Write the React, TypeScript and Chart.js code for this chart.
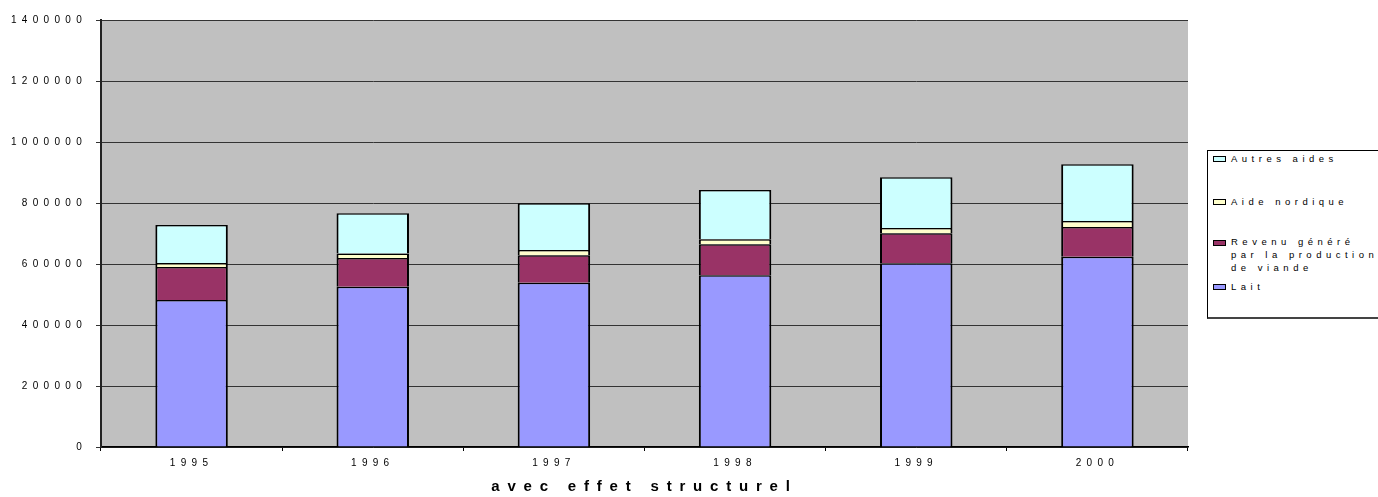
import React, { useEffect, useRef } from 'react';
import { Chart, registerables } from 'chart.js';

Chart.register(...registerables);

const categories = ['1995', '1996', '1997', '1998', '1999', '2000'];
const lait = [482000, 525600, 538800, 563000, 602300, 624000];
const viande = [108000, 94000, 89700, 101600, 98400, 97400];
const nordique = [13000, 15000, 17500, 16400, 17300, 19600];
const autres = [125000, 132000, 153000, 161700, 166300, 186000];

const seriesLabels = ['Lait', 'Revenu généré par la production de viande', 'Aide nordique', 'Autres aides'];
const seriesColors = ['#9999FF', '#993366', '#FFFFCC', '#CCFFFF'];

const yMin = 0;
const yMax = 1400000;
const yStep = 200000;
const xTitle = 'avec effet structurel';

const FONT = "'Liberation Sans', Arial, Helvetica, sans-serif";

// legend item vertical offsets inside the legend box (top → bottom)
const legendTops = [1.5, 44.5, 85, 129.5];

export default function App() {
  const canvasRef = useRef<HTMLCanvasElement | null>(null);

  useEffect(() => {
    const canvas = canvasRef.current;
    if (!canvas) return;
    const seriesData = [lait, viande, nordique, autres];

    const stylePlugin = {
      id: 'excelStyle',
      afterLayout(chart: any) {
        const s: any = chart.scales.x;
        if (s && !s._lsPatched) {
          const orig = s.drawTitle.bind(s);
          s.drawTitle = function () {
            const ctx = chart.ctx;
            ctx.save();
            (ctx as any).letterSpacing = '7.8px';
            orig();
            ctx.restore();
          };
          s._lsPatched = true;
        }
      },
      beforeDraw(chart: any) {
        const { ctx, chartArea } = chart;
        (ctx as any).letterSpacing = '5.3px';
        ctx.save();
        ctx.fillStyle = '#C0C0C0';
        ctx.fillRect(chartArea.left, chartArea.top, chartArea.right - chartArea.left, chartArea.bottom - chartArea.top);
        ctx.restore();
      },
    };

    const chart = new Chart(canvas, {
      type: 'bar',
      data: {
        labels: categories,
        datasets: seriesData.map((d, i) => ({
          label: seriesLabels[i],
          data: d,
          backgroundColor: seriesColors[i],
          borderColor: '#000000',
          borderWidth: { left: 2, right: 2, top: 1.5, bottom: 0 },
          borderSkipped: false as any,
          barPercentage: 0.4,
          categoryPercentage: 1,
        })),
      },
      options: {
        responsive: false,
        animation: false,
        devicePixelRatio: 1,
        layout: { padding: { left: 0, right: 190, top: 20, bottom: 0 } },
        plugins: {
          legend: { display: false },
          tooltip: { enabled: false },
          title: { display: false },
        },
        scales: {
          x: {
            stacked: true,
            offset: true,
            grid: {
              display: true,
              drawOnChartArea: false,
              drawTicks: true,
              tickLength: 4,
              color: '#000000',
              offset: true,
            },
            border: { display: true, color: '#000000', width: 1.5 },
            ticks: {
              color: '#000000',
              font: { family: FONT, size: 10 },
              padding: 6,
              maxRotation: 0,
              autoSkip: false,
            },
            title: {
              display: true,
              text: xTitle,
              color: '#000000',
              font: { family: FONT, size: 15, weight: 'bold' },
              padding: { top: 0, bottom: 1 },
            },
            afterFit(scale: any) {
              scale.height = 50;
            },
          },
          y: {
            stacked: true,
            min: yMin,
            max: yMax,
            grid: {
              color: '#333333',
              lineWidth: 1,
              drawTicks: true,
              tickLength: 5,
            },
            border: { display: true, color: '#222222', width: 2 },
            ticks: {
              stepSize: yStep,
              color: '#000000',
              font: { family: FONT, size: 10 },
              padding: 9,
              callback: (v: any) => String(v),
            },
            afterFit(scale: any) {
              scale.width = 101;
            },
          },
        },
      } as any,
      plugins: [stylePlugin],
    });

    return () => {
      chart.destroy();
    };
  }, []);

  const legendOrder = [3, 2, 1, 0];

  return (
    <div style={{ position: 'fixed', left: 0, top: 0, width: 1378, height: 497, background: '#ffffff', overflow: 'hidden' }}>
      <canvas ref={canvasRef} width={1378} height={497} style={{ position: 'absolute', left: 0, top: 0, width: 1378, height: 497 }} />
      <div
        style={{
          position: 'absolute',
          left: 1207,
          top: 150,
          width: 180,
          height: 166,
          border: '1px solid #000',
          borderBottom: '2px solid #444',
          background: '#ffffff',
          fontFamily: FONT,
          fontSize: 9.5,
          letterSpacing: '4.5px',
          color: '#000',
        }}
      >
        {legendOrder.map((si, k) => (
          <div key={si} style={{ position: 'absolute', left: 0, top: legendTops[k], width: 180 }}>
            <div
              style={{
                position: 'absolute',
                left: 5,
                top: 3.5,
                width: 13,
                height: 6,
                boxSizing: 'border-box',
                border: '1.5px solid #000',
                background: seriesColors[si],
              }}
            />
            <div style={{ position: 'absolute', left: 23, top: 0, width: 152, lineHeight: '12.8px', whiteSpace: 'normal' }}>
              {seriesLabels[si]}
            </div>
          </div>
        ))}
      </div>
    </div>
  );
}
